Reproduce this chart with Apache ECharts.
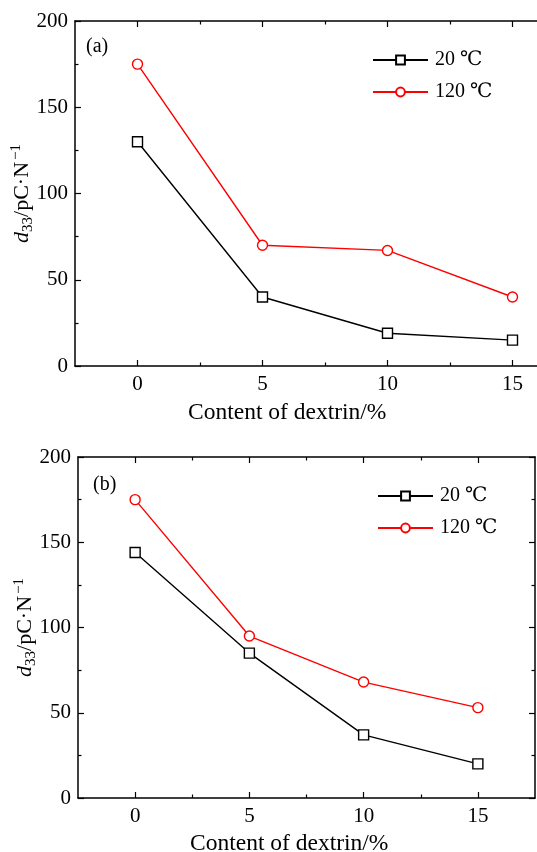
<!DOCTYPE html>
<html>
<head>
<meta charset="utf-8">
<script src="https://cdn.jsdelivr.net/npm/echarts@6/dist/echarts.min.js"></script>
<style>html,body{margin:0;padding:0;background:#fff}#c{width:537px;height:852px}</style>
</head>
<body>
<div id="c"></div>
<script>
// data
var dextrin = [0, 5, 10, 15];
var seriesNames = ['20 ℃', '120 ℃'];
var a20 = [130, 40, 19, 15];
var a120 = [175, 70, 67, 40];
var b20 = [144, 85, 37, 20];
var b120 = [175, 95, 68, 53];
var xMajorTicks = [0, 5, 10, 15];
var xMinorTicks = [2.5, 7.5, 12.5];
var yTicks = [0, 50, 100, 150, 200];
var panelLabels = ['(a)', '(b)'];
var xTitle = 'Content of dextrin/%';

var FONT = '"Liberation Serif", "DejaVu Serif", serif';
var chart = echarts.init(document.getElementById('c'), null, {renderer: 'canvas'});

function pts(vals) { return dextrin.map(function (x, i) { return [x, vals[i]]; }); }

function xAxes(g) {
  var base = {type: 'value', gridIndex: g, min: -2.5, max: 17.5, splitLine: {show: false}};
  return [
    Object.assign({}, base, {position: 'bottom',
      axisLine: {show: true, onZero: false, lineStyle: {color: '#000', width: 1.5}},
      axisTick: {show: true, inside: true, length: 6, lineStyle: {color: '#000', width: 1.2}, customValues: xMajorTicks},
      axisLabel: {show: true, customValues: xMajorTicks, color: '#000', fontSize: 21, fontFamily: FONT, margin: 8}}),
    Object.assign({}, base, {position: 'bottom',
      axisLine: {show: false, onZero: false},
      axisTick: {show: true, inside: true, length: 3.5, lineStyle: {color: '#000', width: 1.2}, customValues: xMinorTicks},
      axisLabel: {show: false}}),
    Object.assign({}, base, {position: 'top',
      axisLine: {show: true, onZero: false, lineStyle: {color: '#000', width: 1.5}},
      axisTick: {show: true, inside: true, length: 6, lineStyle: {color: '#000', width: 1.2}, customValues: xMajorTicks},
      axisLabel: {show: false}}),
    Object.assign({}, base, {position: 'top',
      axisLine: {show: false, onZero: false},
      axisTick: {show: true, inside: true, length: 3.5, lineStyle: {color: '#000', width: 1.2}, customValues: xMinorTicks},
      axisLabel: {show: false}})
  ];
}

var yName = '{i|d}{sub|33}{n|/pC·N}{sup|−1}';
var yRich = {
  i: {fontStyle: 'italic', fontSize: 22, lineHeight: 27, fontFamily: FONT, color: '#000'},
  sub: {fontSize: 15, lineHeight: 15, verticalAlign: 'bottom', fontFamily: FONT, color: '#000'},
  n: {fontSize: 22, lineHeight: 27, fontFamily: FONT, color: '#000'},
  sup: {fontSize: 15, lineHeight: 15, verticalAlign: 'top', fontFamily: FONT, color: '#000', padding: [0, 0, 0, 2]}
};

function yAxes(g) {
  var base = {type: 'value', gridIndex: g, min: 0, max: 200, interval: 50, splitLine: {show: false}};
  return [
    Object.assign({}, base, {position: 'left',
      name: yName, nameLocation: 'middle', nameGap: 39, nameMoveOverlap: false, nameTextStyle: {rich: yRich},
      axisLine: {show: true, onZero: false, lineStyle: {color: '#000', width: 1.5}},
      axisTick: {show: true, inside: true, length: 6, lineStyle: {color: '#000', width: 1.2}},
      minorTick: {show: true, splitNumber: 2, length: 3.5, lineStyle: {color: '#000', width: 1.2}},
      axisLabel: {show: true, color: '#000', fontSize: 21, fontFamily: FONT, margin: 7}}),
    Object.assign({}, base, {position: 'right',
      axisLine: {show: true, onZero: false, lineStyle: {color: '#000', width: 1.5}},
      axisTick: {show: true, inside: true, length: 6, lineStyle: {color: '#000', width: 1.2}},
      minorTick: {show: true, splitNumber: 2, length: 3.5, lineStyle: {color: '#000', width: 1.2}},
      axisLabel: {show: false}})
  ];
}

function lineSeries(name, vals, g, color, symbol) {
  return {
    type: 'line', name: name, data: pts(vals),
    xAxisIndex: g * 4, yAxisIndex: g * 2,
    symbol: symbol, symbolSize: 10, showSymbol: true,
    color: color,
    lineStyle: {color: color, width: 1.4},
    itemStyle: {color: '#fff', borderColor: color, borderWidth: 1.4},
    z: symbol === 'rect' ? 3 : 4,
    animation: false
  };
}

function legend(g, top, left) {
  return {
    show: true, orient: 'vertical', left: left, top: top, padding: 0,
    itemWidth: 55, itemHeight: 11, itemGap: 12,
    data: seriesNames,
    textStyle: {color: '#000', fontSize: 20, fontFamily: FONT, padding: [0, 0, 0, 2]},
    selectedMode: false
  };
}

var option = {
  backgroundColor: '#fff',
  animation: false,
  grid: [
    {left: 75, top: 21, width: 500, height: 345, containLabel: false, outerBoundsMode: 'none'},
    {left: 78, top: 457, width: 457, height: 341, containLabel: false, outerBoundsMode: 'none'}
  ],
  xAxis: xAxes(0).concat(xAxes(1)),
  yAxis: yAxes(0).concat(yAxes(1)),
  legend: [legend(0, 50, 372), legend(1, 486, 377)],
  series: [
    lineSeries(seriesNames[0], a20, 0, '#000', 'rect'),
    lineSeries(seriesNames[1], a120, 0, '#ff0000', 'circle'),
    lineSeries(seriesNames[0], b20, 1, '#000', 'rect'),
    lineSeries(seriesNames[1], b120, 1, '#ff0000', 'circle')
  ],
  graphic: [
    {type: 'text', left: 86, top: 37, style: {text: panelLabels[0], fontSize: 20, fontFamily: FONT, fill: '#000'}},
    {type: 'text', left: 93, top: 475, style: {text: panelLabels[1], fontSize: 20, fontFamily: FONT, fill: '#000'}},
    {type: 'text', left: 188, top: 401, style: {text: xTitle, fontSize: 23.5, fontFamily: FONT, fill: '#000'}},
    {type: 'text', left: 190, top: 832, style: {text: xTitle, fontSize: 23.5, fontFamily: FONT, fill: '#000'}}
  ]
};
chart.setOption(option);
</script>
</body>
</html>
